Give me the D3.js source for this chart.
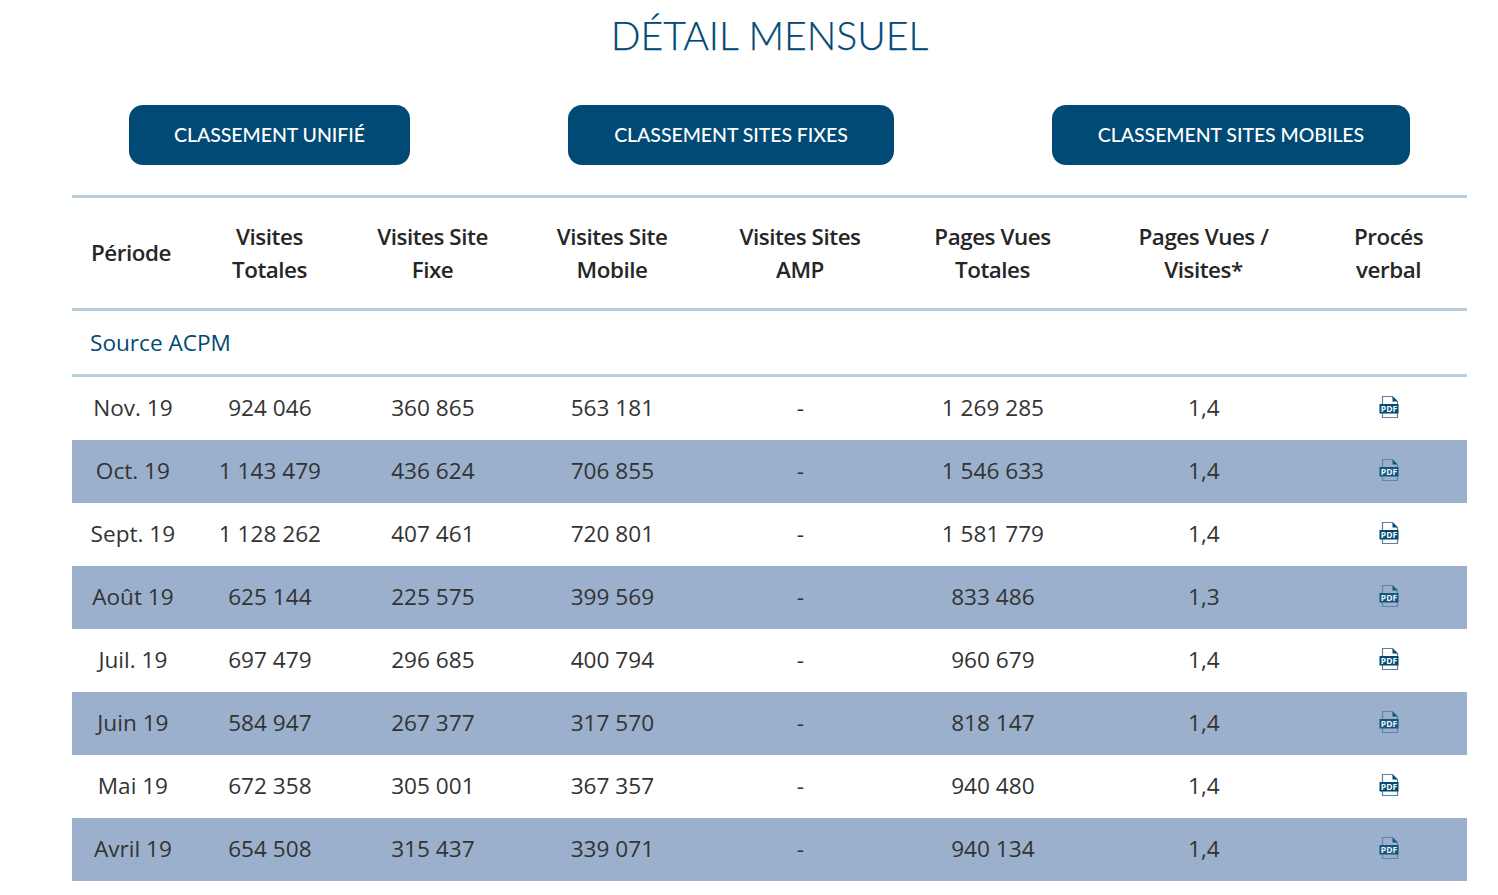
<!DOCTYPE html>
<html lang="fr">
<head>
<meta charset="utf-8">
<title>Détail mensuel</title>
<script src="https://cdn.jsdelivr.net/npm/d3@7"></script>
<style>
  html, body { margin: 0; padding: 0; background: #fff; overflow: hidden; }
  svg { display: block; }
  text { font-family: "Open Sans", sans-serif; }
  .title { font-family: Lato, sans-serif; font-weight: 300; font-size: 39.2px; fill: #004a75; stroke: #004a75; stroke-width: 0.25px; }
  .button-label { font-family: Lato, sans-serif; font-size: 19.5px; font-weight: 500; fill: #fff; letter-spacing: -0.05px; }
  .head { font-size: 22.4px; font-weight: 600; fill: #262626; letter-spacing: -0.45px; }
  .source { font-size: 22.6px; fill: #004a75; }
  .cell { font-size: 22.6px; fill: #333; }
</style>
</head>
<body>
<svg width="1498" height="895"></svg>
<script>
const title = "DÉTAIL MENSUEL";
const buttons = ["CLASSEMENT UNIFIÉ", "CLASSEMENT SITES FIXES", "CLASSEMENT SITES MOBILES"];
const buttonLeft = [129, 568, 1052];
const buttonRight = [410, 894, 1410];

const columnIds = ["periode", "totales", "fixe", "mobile", "amp", "pages", "ratio", "pv"];
const columnCenters = [132.9, 269.9, 432.9, 612.4, 800.4, 992.9, 1203.9, 1389];
const headers = [
  ["Période"],
  ["Visites", "Totales"],
  ["Visites Site", "Fixe"],
  ["Visites Site", "Mobile"],
  ["Visites Sites", "AMP"],
  ["Pages Vues", "Totales"],
  ["Pages Vues /", "Visites*"],
  ["Procés", "verbal"]
];

const months = ["Nov. 19", "Oct. 19", "Sept. 19", "Août 19", "Juil. 19", "Juin 19", "Mai 19", "Avril 19"];
const visitesTotales = [924046, 1143479, 1128262, 625144, 697479, 584947, 672358, 654508];
const visitesFixe = [360865, 436624, 407461, 225575, 296685, 267377, 305001, 315437];
const visitesMobile = [563181, 706855, 720801, 399569, 400794, 317570, 367357, 339071];
const visitesAmp = [null, null, null, null, null, null, null, null];
const pagesVues = [1269285, 1546633, 1581779, 833486, 960679, 818147, 940480, 940134];
const pagesParVisite = [1.4, 1.4, 1.4, 1.3, 1.4, 1.4, 1.4, 1.4];

const svg = d3.select("svg");
const tableLeft = 72, tableRight = 1467;
const bandColor = "#9ab0cc", ruleColor = "#b8cfde", navy = "#004a75";

// French number formats: space for thousands, comma for decimals
const fr = d3.formatLocale({ decimal: ",", thousands: " ", grouping: [3], currency: ["", " €"] });
const formatInt = fr.format(",d");
const formatRatio = fr.format(".1f");

const xColumn = d3.scaleOrdinal().domain(columnIds).range(columnCenters);
const yRow = d3.scaleBand().domain(months).range([377, 881]);

// Title
svg.append("text").attr("class", "title")
  .attr("x", 769.5).attr("y", 49.6).attr("text-anchor", "middle").text(title);

// Buttons
const buttonGroups = svg.selectAll(".button").data(buttons).join("g").attr("class", "button");
buttonGroups.append("rect")
  .attr("x", (d, i) => buttonLeft[i])
  .attr("y", 105)
  .attr("width", (d, i) => buttonRight[i] - buttonLeft[i])
  .attr("height", 60)
  .attr("rx", 14)
  .attr("fill", navy);
buttonGroups.append("text").attr("class", "button-label")
  .attr("x", (d, i) => (buttonLeft[i] + buttonRight[i]) / 2)
  .attr("y", 141.5)
  .attr("text-anchor", "middle")
  .text(d => d);

// Horizontal rules
svg.selectAll(".rule").data([196.5, 309.5, 375.5]).join("line")
  .attr("class", "rule")
  .attr("x1", tableLeft).attr("x2", tableRight)
  .attr("y1", d => d).attr("y2", d => d)
  .attr("stroke", ruleColor).attr("stroke-width", 3);

// Header cells
const headerCells = svg.selectAll(".head").data(headers).join("text")
  .attr("class", "head")
  .attr("text-anchor", "middle");
headerCells.selectAll("tspan").data((d, i) => d.map(line => ({ line, i, n: d.length }))).join("tspan")
  .attr("x", d => xColumn(columnIds[d.i]) - (d.i === 0 ? 2 : 0.4))
  .attr("y", (d, j) => d.n === 1 ? 261 : 245 + j * 33)
  .text(d => d.line);

svg.append("text").attr("class", "source").attr("x", 90).attr("y", 350.5).text("Source ACPM");

// Alternate row bands
svg.selectAll(".band").data(months.filter((d, i) => i % 2 === 1)).join("rect")
  .attr("class", "band")
  .attr("x", tableLeft)
  .attr("y", d => yRow(d))
  .attr("width", tableRight - tableLeft)
  .attr("height", yRow.bandwidth())
  .attr("fill", bandColor);

// Text cells, one column at a time
const columns = [
  { id: "periode", values: months, format: d => d },
  { id: "totales", values: visitesTotales, format: formatInt },
  { id: "fixe", values: visitesFixe, format: formatInt },
  { id: "mobile", values: visitesMobile, format: formatInt },
  { id: "amp", values: visitesAmp, format: () => "-" },
  { id: "pages", values: pagesVues, format: formatInt },
  { id: "ratio", values: pagesParVisite, format: formatRatio }
];
columns.forEach(col => {
  svg.selectAll(".cell-" + col.id).data(col.values).join("text")
    .attr("class", "cell cell-" + col.id)
    .attr("x", xColumn(col.id))
    .attr("y", (d, i) => yRow(months[i]) + 39.3)
    .attr("text-anchor", "middle")
    .text(col.format);
});

// PDF icons in the last column
const icons = svg.selectAll(".pdf").data(months).join("g")
  .attr("class", "pdf")
  .attr("transform", d => `translate(${xColumn("pv")},${yRow(d) + 33})`)
  .attr("opacity", (d, i) => i % 2 === 0 ? 1 : 0.88);
icons.append("path")
  .attr("d", "M-6.5,-13.5 H3.5 L8.5,-8.5 V7.5 H-6.5 Z")
  .attr("fill", "#fff").attr("fill-opacity", (d, i) => i % 2 === 0 ? 1 : 0)
  .attr("stroke", "#5f7f9c").attr("stroke-width", 1.2);
icons.append("path").attr("d", "M3.5,-13.5 L8.5,-8.5 H3.5 Z").attr("fill", navy);
icons.append("rect")
  .attr("x", -9.5).attr("y", -6).attr("width", 19).attr("height", 9.5)
  .attr("fill", navy);
icons.append("text")
  .attr("x", 0).attr("y", 2.2)
  .attr("text-anchor", "middle")
  .attr("font-size", 8.5).attr("font-weight", 700)
  .attr("fill", "#fff")
  .text("PDF");
</script>
</body>
</html>
